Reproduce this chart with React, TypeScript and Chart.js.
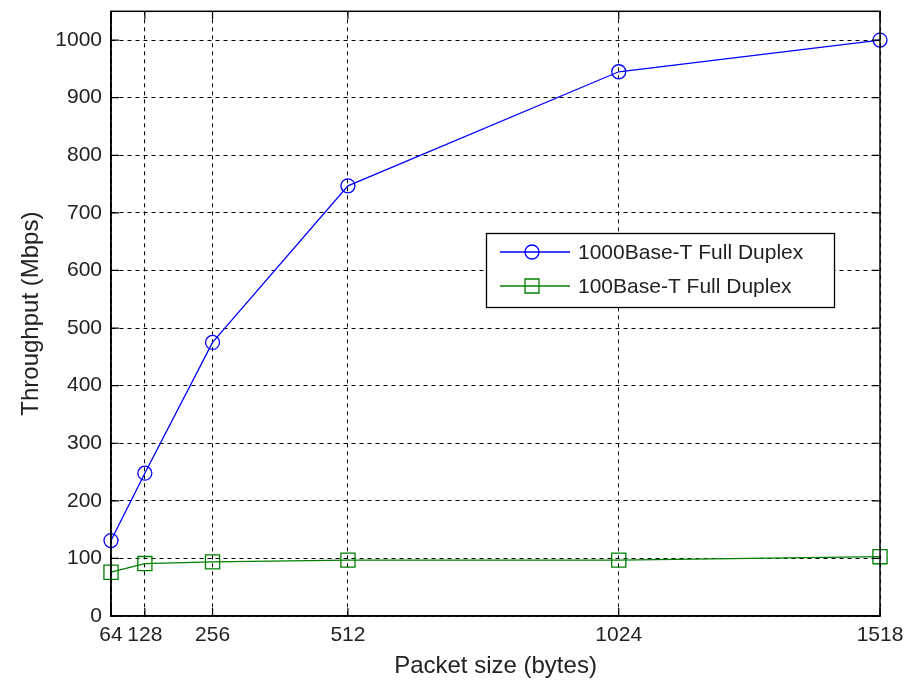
import React, { useEffect, useRef } from "react";
import { Chart, registerables } from "chart.js";

Chart.register(...registerables);

const packetSizes = [64, 128, 256, 512, 1024, 1518];
const gigabitThroughput = [131, 248, 475, 747, 945, 1000];
const fastEthernetThroughput = [76, 91, 94, 97, 97, 103];
const xTickValues = [64, 128, 256, 512, 1024, 1518];
const yTickValues = [0, 100, 200, 300, 400, 500, 600, 700, 800, 900, 1000];
const seriesLabels = ["1000Base-T Full Duplex", "100Base-T Full Duplex"];
const seriesColors = ["#0000ff", "#008000"];
const xAxisTitle = "Packet size (bytes)";
const yAxisTitle = "Throughput (Mbps)";

const FONT = "'Liberation Sans', Arial, sans-serif";

function drawMarker(ctx: CanvasRenderingContext2D, style: string, x: number, y: number, color: string) {
  ctx.save();
  ctx.strokeStyle = color;
  ctx.lineWidth = 1.3;
  ctx.beginPath();
  if (style === "circle") {
    ctx.arc(x, y, 7, 0, Math.PI * 2);
  } else {
    ctx.rect(x - 7, y - 7, 14, 14);
  }
  ctx.stroke();
  ctx.restore();
}

const framePlugin = {
  id: "matlabFrame",
  afterDraw(chart: any) {
    const { ctx, chartArea } = chart;
    const { left, right, top, bottom } = chartArea;
    const xs = chart.scales.x;
    const ys = chart.scales.y;
    ctx.save();
    ctx.strokeStyle = "#000";
    ctx.lineWidth = 1.5;
    ctx.setLineDash([]);
    ctx.strokeRect(left, top, right - left, bottom - top);
    ctx.lineWidth = 1.2;
    const tl = 8;
    xTickValues.forEach((v) => {
      const px = xs.getPixelForValue(v);
      ctx.beginPath();
      ctx.moveTo(px, bottom);
      ctx.lineTo(px, bottom - tl);
      ctx.moveTo(px, top);
      ctx.lineTo(px, top + tl);
      ctx.stroke();
    });
    yTickValues.forEach((v) => {
      const py = ys.getPixelForValue(v);
      ctx.beginPath();
      ctx.moveTo(left, py);
      ctx.lineTo(left + tl, py);
      ctx.moveTo(right, py);
      ctx.lineTo(right - tl, py);
      ctx.stroke();
    });

    // legend box
    const x0 = 486, y0 = 233, w = 348, h = 74;
    ctx.fillStyle = "#fff";
    ctx.fillRect(x0, y0, w, h);
    ctx.strokeStyle = "#000";
    ctx.lineWidth = 1.3;
    ctx.strokeRect(x0 + 0.5, y0 + 0.5, w, h);
    const styles = ["circle", "rect"];
    seriesLabels.forEach((label, i) => {
      const y = y0 + 19 + i * 34;
      ctx.strokeStyle = seriesColors[i];
      ctx.lineWidth = 1.3;
      ctx.beginPath();
      ctx.moveTo(x0 + 14, y);
      ctx.lineTo(x0 + 84, y);
      ctx.stroke();
      drawMarker(ctx, styles[i], x0 + 46, y, seriesColors[i]);
      ctx.fillStyle = "#222";
      ctx.font = `21px ${FONT}`;
      ctx.textBaseline = "middle";
      ctx.textAlign = "left";
      ctx.fillText(label, x0 + 92, y + 1);
    });
    ctx.restore();
  },
};

export default function App() {
  const ref = useRef<HTMLCanvasElement | null>(null);

  useEffect(() => {
    document.body.style.margin = "0";
    const canvas = ref.current;
    if (!canvas) return;
    const chart = new Chart(canvas, {
      type: "line",
      data: {
        datasets: [
          {
            label: seriesLabels[0],
            data: packetSizes.map((x, i) => ({ x, y: gigabitThroughput[i] })),
            borderColor: seriesColors[0],
            backgroundColor: "rgba(0,0,0,0)",
            borderWidth: 1.3,
            pointStyle: "circle",
            pointRadius: 7,
            pointBorderWidth: 1.3,
            pointBorderColor: seriesColors[0],
            pointBackgroundColor: "rgba(0,0,0,0)",
            tension: 0,
            clip: false as any,
          },
          {
            label: seriesLabels[1],
            data: packetSizes.map((x, i) => ({ x, y: fastEthernetThroughput[i] })),
            borderColor: seriesColors[1],
            backgroundColor: "rgba(0,0,0,0)",
            borderWidth: 1.3,
            pointStyle: "rect",
            pointRadius: 10,
            pointBorderWidth: 1.3,
            pointBorderColor: seriesColors[1],
            pointBackgroundColor: "rgba(0,0,0,0)",
            tension: 0,
            clip: false as any,
          },
        ],
      },
      options: {
        animation: false,
        responsive: false,
        devicePixelRatio: 1,
        events: [],
        layout: { padding: { left: 0, right: 25, top: 10, bottom: 0 } },
        plugins: {
          legend: { display: false },
          tooltip: { enabled: false },
        },
        scales: {
          x: {
            type: "linear",
            min: 64,
            max: 1518,
            afterBuildTicks: (scale: any) => {
              scale.ticks = xTickValues.map((v) => ({ value: v }));
            },
            afterFit: (scale: any) => {
              scale.height = 65;
              scale.paddingLeft = 0;
              scale.paddingRight = 0;
            },
            ticks: {
              font: { family: FONT, size: 21 },
              color: "#222",
              padding: 7,
              maxRotation: 0,
              autoSkip: false,
              callback: (v: any) => String(v),
            },
            grid: {
              color: "#000",
              lineWidth: 1,
              drawTicks: false,
            },
            border: { display: true, color: "#000", width: 1.5, dash: [4, 4] },
            title: {
              display: true,
              text: xAxisTitle,
              font: { family: FONT, size: 24 },
              color: "#222",
              padding: { top: 0, bottom: 0 },
            },
          },
          y: {
            type: "linear",
            min: 0,
            max: 1050,
            afterBuildTicks: (scale: any) => {
              scale.ticks = yTickValues.map((v) => ({ value: v }));
            },
            afterFit: (scale: any) => {
              scale.width = 111;
              scale.paddingTop = 0;
              scale.paddingBottom = 0;
            },
            ticks: {
              font: { family: FONT, size: 21 },
              color: "#222",
              padding: 9,
              autoSkip: false,
              callback: (v: any) => String(v),
            },
            grid: {
              color: "#000",
              lineWidth: 1,
              drawTicks: false,
            },
            border: { display: true, color: "#000", width: 1.5, dash: [4, 4] },
            title: {
              display: true,
              text: yAxisTitle,
              font: { family: FONT, size: 24 },
              color: "#222",
              padding: { top: 17, bottom: 0 },
            },
          },
        },
      },
      plugins: [framePlugin],
    });
    return () => chart.destroy();
  }, []);

  return (
    <div style={{ width: 905, height: 681, background: "#fff" }}>
      <canvas ref={ref} width={905} height={681} style={{ display: "block" }} />
    </div>
  );
}
